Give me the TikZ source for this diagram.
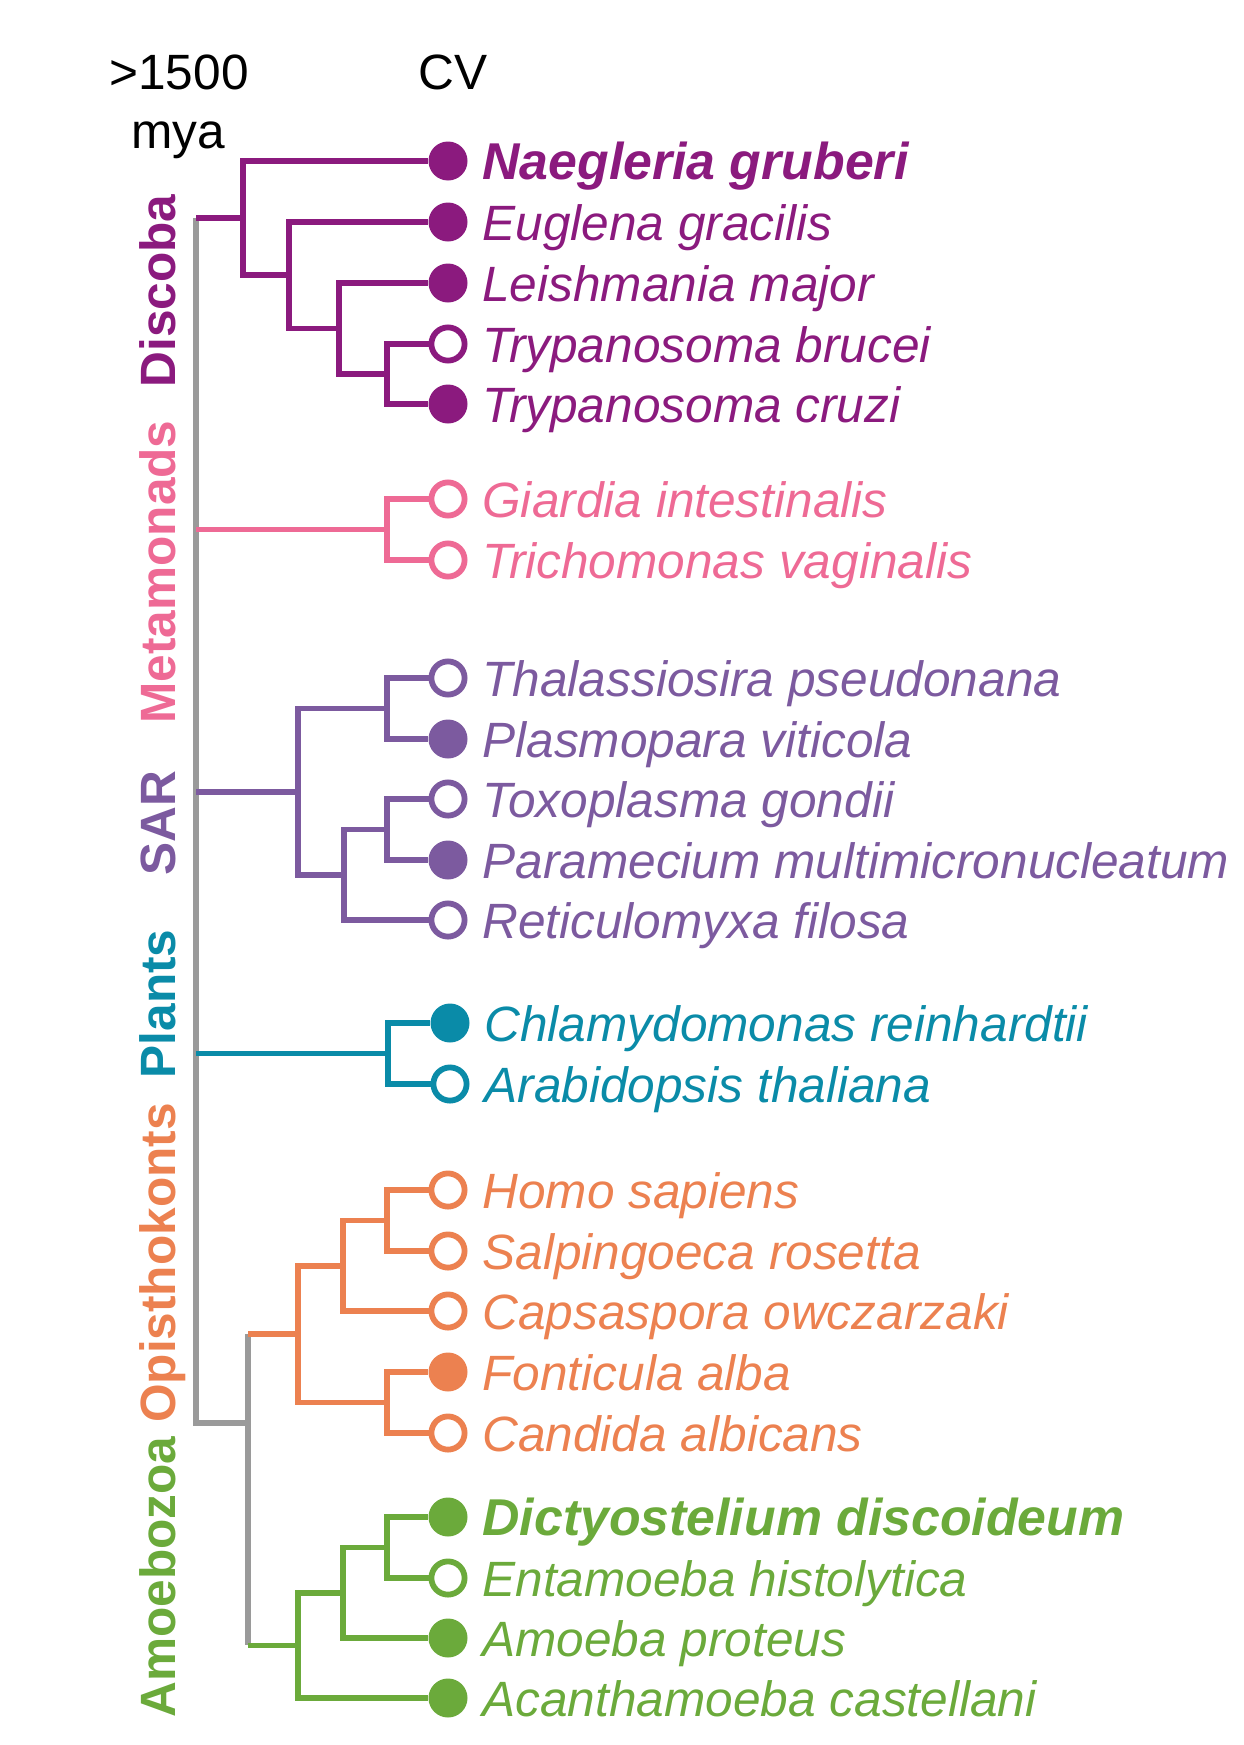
\documentclass[tikz,border=0pt]{standalone}
\usepackage{fontspec}
\setmainfont{Liberation Sans}
\definecolor{discoba}{HTML}{8B1A7E}
\definecolor{metamon}{HTML}{EE6A95}
\definecolor{sar}{HTML}{7C5A9F}
\definecolor{plants}{HTML}{0A8BA8}
\definecolor{opisth}{HTML}{EC8150}
\definecolor{amoeb}{HTML}{6BAA3B}
\definecolor{spine}{HTML}{9A9A9A}
\newcommand{\tsz}{\fontsize{24.8}{30}\selectfont}
\newcommand{\bsz}{\fontsize{25.9}{30}\selectfont}

\begin{document}
\begin{tikzpicture}[x=0.5pt,y=-0.5pt,
  branch/.style={line width=2.9pt,draw=#1},
  cvfull/.style={circle,inner sep=0pt,minimum size=19.5pt,fill=#1},
  cvopen/.style={circle,inner sep=0pt,minimum size=16.6pt,line width=2.9pt,draw=#1,fill=white},
  taxon/.style={anchor=base west,inner sep=0pt,text=#1,font=\tsz\itshape},
  clade/.style={rotate=90,anchor=base,inner sep=0pt,text=#1,font=\tsz\bfseries},
  head/.style={anchor=base,inner sep=0pt,font=\tsz}]
\useasboundingbox (0,0) rectangle (1243,1745);
\node[head] (age) at (179,89) {>1500};
\node[head] (mya) at (178,148) {mya};
\node[head] (cv) at (453,89) {CV};
\node[clade=discoba] (lDis) at (175,291) {Discoba};
\node[clade=metamon] (lMet) at (175,572) {Metamonads};
\node[clade=sar] (lSar) at (175,823) {SAR};
\node[clade=plants] (lPla) at (175,1004) {Plants};
\node[clade=opisth] (lOpi) at (175,1263) {Opisthokonts};
\node[clade=amoeb] (lAmo) at (175,1577) {Amoebozoa};
\coordinate (d0) at (196,218);
\coordinate (d1) at (243,218);
\coordinate (d2) at (289,275);
\coordinate (d3) at (339,328.5);
\coordinate (d4) at (387,374);
\coordinate (m0) at (196,529.5);
\coordinate (m1) at (387,529.5);
\coordinate (s0) at (196,791.6);
\coordinate (s4) at (298,791.6);
\coordinate (s1) at (387,708.5);
\coordinate (s3) at (344,874.75);
\coordinate (s2) at (387,829.5);
\coordinate (p0) at (196,1053.5);
\coordinate (p1) at (388,1053.5);
\coordinate (join) at (248,1423);
\coordinate (o0) at (248,1334.1);
\coordinate (o4) at (298,1334.1);
\coordinate (o2) at (343,1265.75);
\coordinate (o1) at (387,1220.5);
\coordinate (o3) at (387,1402.5);
\coordinate (a0) at (248,1645.4);
\coordinate (a3) at (298,1645.4);
\coordinate (a2) at (343,1592.75);
\coordinate (a1) at (387,1547.5);
\node[cvfull=discoba] (Ng) at (448,161) {};
\node[cvfull=discoba] (Eg) at (448,222) {};
\node[cvfull=discoba] (Lm) at (448,283) {};
\node[cvopen=discoba] (Tb) at (448,344) {};
\node[cvfull=discoba] (Tc) at (448,404) {};
\node[cvopen=metamon] (Gi) at (448,499) {};
\node[cvopen=metamon] (Tv) at (448,560) {};
\node[cvopen=sar] (Tp) at (448,678) {};
\node[cvfull=sar] (Pv) at (448,739) {};
\node[cvopen=sar] (Tg) at (448,799) {};
\node[cvfull=sar] (Pm) at (448,860) {};
\node[cvopen=sar] (Rf) at (448,920) {};
\node[cvfull=plants] (Cr) at (450,1023) {};
\node[cvopen=plants] (At) at (450,1084) {};
\node[cvopen=opisth] (Hs) at (448,1190) {};
\node[cvopen=opisth] (Sr) at (448,1251) {};
\node[cvopen=opisth] (Co) at (448,1311) {};
\node[cvfull=opisth] (Fa) at (448,1372) {};
\node[cvopen=opisth] (Ca) at (448,1433) {};
\node[cvfull=amoeb] (Dd) at (448,1517) {};
\node[cvopen=amoeb] (Eh) at (448,1578) {};
\node[cvfull=amoeb] (Ap) at (448,1638) {};
\node[cvfull=amoeb] (Ac) at (448,1698) {};
\node[taxon=discoba,font=\bsz\bfseries\itshape] (tNg) at (482,179) {Naegleria gruberi};
\node[taxon=discoba] (tEg) at (482,240) {Euglena gracilis};
\node[taxon=discoba] (tLm) at (482,301) {Leishmania major};
\node[taxon=discoba] (tTb) at (482,362) {Trypanosoma brucei};
\node[taxon=discoba] (tTc) at (482,422) {Trypanosoma cruzi};
\node[taxon=metamon] (tGi) at (482,517) {Giardia intestinalis};
\node[taxon=metamon] (tTv) at (482,578) {Trichomonas vaginalis};
\node[taxon=sar] (tTp) at (482,696) {Thalassiosira pseudonana};
\node[taxon=sar] (tPv) at (482,757) {Plasmopara viticola};
\node[taxon=sar] (tTg) at (482,817) {Toxoplasma gondii};
\node[taxon=sar] (tPm) at (482,878) {Paramecium multimicronucleatum};
\node[taxon=sar] (tRf) at (482,938) {Reticulomyxa filosa};
\node[taxon=plants] (tCr) at (484,1041) {Chlamydomonas reinhardtii};
\node[taxon=plants] (tAt) at (484,1102) {Arabidopsis thaliana};
\node[taxon=opisth] (tHs) at (482,1208) {Homo sapiens};
\node[taxon=opisth] (tSr) at (482,1269) {Salpingoeca rosetta};
\node[taxon=opisth] (tCo) at (482,1329) {Capsaspora owczarzaki};
\node[taxon=opisth] (tFa) at (482,1390) {Fonticula alba};
\node[taxon=opisth] (tCa) at (482,1451) {Candida albicans};
\node[taxon=amoeb,font=\bsz\bfseries\itshape] (tDd) at (482,1535) {Dictyostelium discoideum};
\node[taxon=amoeb] (tEh) at (482,1596) {Entamoeba histolytica};
\node[taxon=amoeb] (tAp) at (482,1656) {Amoeba proteus};
\node[taxon=amoeb] (tAc) at (482,1716) {Acanthamoeba castellani};
\draw[branch=spine] (d0) |- (join);
\draw[branch=spine] (o0) -- (a0);
\draw[branch=discoba] (d0) -- (d1);
\draw[branch=discoba] (d1) |- (Ng);
\draw[branch=discoba] (d1) |- (d2);
\draw[branch=discoba] (d2) |- (Eg);
\draw[branch=discoba] (d2) |- (d3);
\draw[branch=discoba] (d3) |- (Lm);
\draw[branch=discoba] (d3) |- (d4);
\draw[branch=discoba] (d4) |- (Tb);
\draw[branch=discoba] (d4) |- (Tc);
\draw[branch=metamon] (m0) -- (m1);
\draw[branch=metamon] (m1) |- (Gi);
\draw[branch=metamon] (m1) |- (Tv);
\draw[branch=sar] (s0) -- (s4);
\draw[branch=sar] (s4) |- (s1);
\draw[branch=sar] (s4) |- (s3);
\draw[branch=sar] (s1) |- (Tp);
\draw[branch=sar] (s1) |- (Pv);
\draw[branch=sar] (s3) |- (s2);
\draw[branch=sar] (s3) |- (Rf);
\draw[branch=sar] (s2) |- (Tg);
\draw[branch=sar] (s2) |- (Pm);
\draw[branch=plants] (p0) -- (p1);
\draw[branch=plants] (p1) |- (Cr);
\draw[branch=plants] (p1) |- (At);
\draw[branch=opisth] (o0) -- (o4);
\draw[branch=opisth] (o4) |- (o2);
\draw[branch=opisth] (o4) |- (o3);
\draw[branch=opisth] (o2) |- (o1);
\draw[branch=opisth] (o2) |- (Co);
\draw[branch=opisth] (o1) |- (Hs);
\draw[branch=opisth] (o1) |- (Sr);
\draw[branch=opisth] (o3) |- (Fa);
\draw[branch=opisth] (o3) |- (Ca);
\draw[branch=amoeb] (a0) -- (a3);
\draw[branch=amoeb] (a3) |- (a2);
\draw[branch=amoeb] (a3) |- (Ac);
\draw[branch=amoeb] (a2) |- (a1);
\draw[branch=amoeb] (a2) |- (Ap);
\draw[branch=amoeb] (a1) |- (Dd);
\draw[branch=amoeb] (a1) |- (Eh);
\end{tikzpicture}
\end{document}
